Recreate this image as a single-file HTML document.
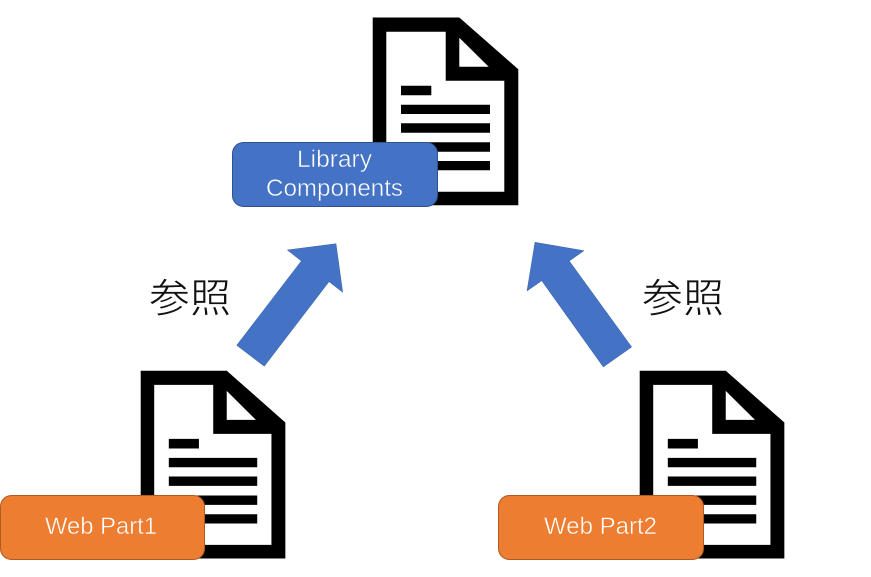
<!DOCTYPE html>
<html><head><meta charset="utf-8"><style>
html,body{margin:0;padding:0;background:#fff;width:871px;height:577px;overflow:hidden}
svg{display:block}
.l{font-family:"Liberation Sans","Noto Sans CJK JP",sans-serif;font-size:24px;fill:#fff;font-weight:400;stroke-width:.45px;paint-order:fill stroke}
.b{stroke:#4472c4}
.o{stroke:#ed7d31}
.j{font-family:"Liberation Sans","Noto Sans CJK JP",sans-serif;font-size:40px;fill:#111;stroke:#fff;stroke-width:.7px;paint-order:fill stroke}
</style></head><body>
<svg width="871" height="577" viewBox="0 0 871 577" xmlns="http://www.w3.org/2000/svg">
<g><path fill="#000" fill-rule="evenodd" d="M372.7 17.5H459.3L518.3 69.3V205.3H372.7ZM386.3 31.7V191.7H504.3V80.7H445.7V31.7ZM459.3 37.7V66.7H488.7Z"/>
<path fill="#000" d="M401 85.7H431.3V95.3H401ZM401 104.7H490V114H401ZM401 123.3H490V132.7H401ZM401 142.3H490V151.7H401ZM401 161H490V170.3H401Z"/></g>
<g transform="matrix(.9935 0 0 1 -229.58 353.2)"><path fill="#000" fill-rule="evenodd" d="M372.7 17.5H459.3L518.3 69.3V205.3H372.7ZM386.3 31.7V191.7H504.3V80.7H445.7V31.7ZM459.3 37.7V66.7H488.7Z"/>
<path fill="#000" d="M401 85.7H431.3V95.3H401ZM401 104.7H490V114H401ZM401 123.3H490V132.7H401ZM401 142.3H490V151.7H401ZM401 161H490V170.3H401Z"/></g>
<g transform="matrix(.9935 0 0 1 269.42 353.2)"><path fill="#000" fill-rule="evenodd" d="M372.7 17.5H459.3L518.3 69.3V205.3H372.7ZM386.3 31.7V191.7H504.3V80.7H445.7V31.7ZM459.3 37.7V66.7H488.7Z"/>
<path fill="#000" d="M401 85.7H431.3V95.3H401ZM401 104.7H490V114H401ZM401 123.3H490V132.7H401ZM401 142.3H490V151.7H401ZM401 161H490V170.3H401Z"/></g>
<rect x="232.5" y="142.5" width="205" height="64" rx="11" fill="#4472c4" stroke="#2f528f" stroke-width="1"/>
<rect x="0.5" y="495.5" width="204" height="64" rx="11" fill="#ed7d31" stroke="#ae5a21" stroke-width="1"/>
<rect x="498.5" y="495.5" width="205" height="64" rx="11" fill="#ed7d31" stroke="#ae5a21" stroke-width="1"/>
<polygon points="336,243.7 287.3,250 301.3,261 236.7,345.3 264.3,366.3 329,281.7 342.7,292.3" fill="#4472c4" stroke="#3a63ad" stroke-width="0.5"/>
<polygon points="535,242.3 584,250.7 569.3,261 631.7,347 603.3,367 541.7,280.7 527,291" fill="#4472c4" stroke="#3a63ad" stroke-width="0.5"/>
<text class="l b" x="297" y="167" textLength="75" lengthAdjust="spacingAndGlyphs">Library</text>
<text class="l b" x="266" y="196" textLength="137" lengthAdjust="spacingAndGlyphs">Components</text>
<text class="l o" x="45" y="534" textLength="112" lengthAdjust="spacingAndGlyphs">Web Part1</text>
<text class="l o" x="544" y="534" textLength="113" lengthAdjust="spacingAndGlyphs">Web Part2</text>
<text class="j" x="149" y="312" textLength="82" lengthAdjust="spacingAndGlyphs">参照</text>
<text class="j" x="642" y="312" textLength="82" lengthAdjust="spacingAndGlyphs">参照</text>
</svg>
</body></html>
